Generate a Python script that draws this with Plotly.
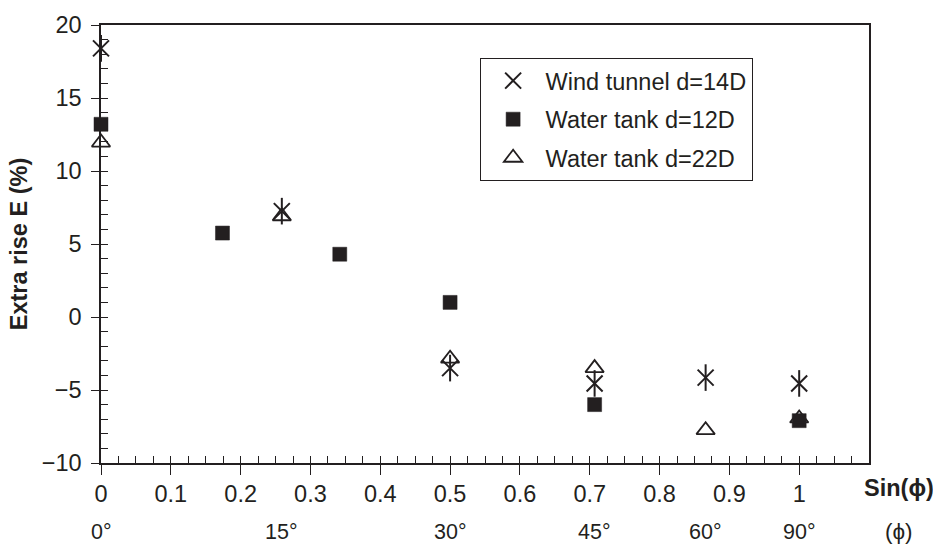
import plotly.graph_objects as go

# Extra rise E (%) against sin(phi)
wind_sin = [0, 0.259, 0.5, 0.707, 0.866, 1]
wind_e = [18.4, 7.25, -3.5, -4.55, -4.15, -4.55]

tank12_sin = [0, 0.174, 0.342, 0.5, 0.707, 1]
tank12_e = [13.2, 5.75, 4.3, 1.0, -6.0, -7.1]

tank22_sin = [0, 0.259, 0.5, 0.707, 0.866, 1]
tank22_e = [11.95, 6.9, -2.85, -3.5, -7.75, -6.95]

x_ticks = [0, 0.1, 0.2, 0.3, 0.4, 0.5, 0.6, 0.7, 0.8, 0.9, 1]
x_tick_text = ["0", "0.1", "0.2", "0.3", "0.4", "0.5", "0.6", "0.7", "0.8", "0.9", "1"]
y_ticks = [-10, -5, 0, 5, 10, 15, 20]

angle_pos = [0, 0.259, 0.5, 0.707, 0.866, 1]
angle_text = ["0°", "15°", "30°", "45°", "60°", "90°"]

INK = "#231f20"
FONT = "Liberation Sans, Arial, sans-serif"
FS = 23.5

fig = go.Figure()

# Wind tunnel: six-armed star built from an X plus a vertical bar
fig.add_trace(go.Scatter(
    x=wind_sin, y=wind_e, mode="markers", name="Wind tunnel d=14D",
    legendgroup="wind",
    marker=dict(symbol="x-thin-open", size=16, color=INK,
                line=dict(width=2, color=INK)),
    cliponaxis=False,
))
fig.add_trace(go.Scatter(
    x=wind_sin, y=wind_e, mode="markers", showlegend=False,
    legendgroup="wind",
    marker=dict(symbol="line-ns-open", size=19, color=INK,
                line=dict(width=2, color=INK)),
    cliponaxis=False,
))
fig.add_trace(go.Scatter(
    x=tank12_sin, y=tank12_e, mode="markers", name="Water tank d=12D",
    legendgroup="t12",
    marker=dict(symbol="square", size=14, color=INK,
                line=dict(width=0.5, color=INK)),
    cliponaxis=False,
))
fig.add_trace(go.Scatter(
    x=tank22_sin, y=tank22_e, mode="markers", name="Water tank d=22D",
    legendgroup="t22",
    marker=dict(symbol="triangle-up-open", size=16, color=INK,
                line=dict(width=1.8, color=INK)),
    cliponaxis=False,
))

# Empty trace carrying the inside tick axes
fig.add_trace(go.Scatter(x=[], y=[], xaxis="x2", yaxis="y2",
                         showlegend=False, hoverinfo="skip"))

for pos, txt in zip(angle_pos, angle_text):
    fig.add_annotation(x=pos, y=0, xref="x", yref="paper", yanchor="middle",
                       yshift=-69, text=txt, showarrow=False, borderpad=0,
                       font=dict(family=FONT, size=21.5, color=INK))

fig.add_annotation(x=1.0, y=0, xref="paper", yref="paper", xanchor="left",
                   yanchor="middle", xshift=-7, yshift=-25,
                   text="<b>Sin(ϕ)</b>", showarrow=False,
                   font=dict(family=FONT, size=FS, color=INK))
fig.add_annotation(x=1.0, y=0, xref="paper", yref="paper", xanchor="left",
                   yanchor="middle", xshift=15, yshift=-68, borderpad=0,
                   text="(ϕ)", showarrow=False,
                   font=dict(family=FONT, size=22.5, color=INK))

axis_common = dict(showgrid=False, zeroline=False, linecolor=INK,
                   linewidth=1.5, tickcolor=INK, tickwidth=1.3)

fig.update_layout(
    width=933, height=545,
    margin=dict(l=101, r=64, t=23, b=82),
    paper_bgcolor="white", plot_bgcolor="white",
    font=dict(family=FONT, size=FS, color=INK),
    showlegend=True,
    legend=dict(x=0.493, y=0.925, xanchor="left", yanchor="top",
                bordercolor=INK, borderwidth=1, bgcolor="white",
                font=dict(family=FONT, size=FS, color=INK),
                tracegroupgap=5, traceorder="grouped",
                itemwidth=55),
    xaxis=dict(range=[0, 1.1], tickvals=x_ticks, ticktext=x_tick_text,
               ticks="outside", ticklen=10, mirror=True,
               ticklabelstandoff=-1, **axis_common),
    yaxis=dict(range=[-10, 20], tickvals=y_ticks, ticks="outside",
               ticklen=8, mirror=True, ticklabelstandoff=5,
               title=dict(text="<b>Extra rise E (%)</b>", standoff=7,
                          font=dict(size=FS)),
               **axis_common),
    xaxis2=dict(range=[0, 1.1], overlaying="x", anchor="y2", side="bottom",
                tick0=0, dtick=0.025, ticks="inside", ticklen=7,
                showticklabels=False, showline=False, showgrid=False,
                zeroline=False, tickcolor=INK, tickwidth=1.3,
                autorange=False, fixedrange=True),
    yaxis2=dict(range=[-10, 20], overlaying="y", anchor="x2", side="left",
                tick0=-10, dtick=1, ticks="inside", ticklen=7,
                showticklabels=False, showline=False, showgrid=False,
                zeroline=False, tickcolor=INK, tickwidth=1.3,
                autorange=False, fixedrange=True),
)

fig.write_html("out.html")
